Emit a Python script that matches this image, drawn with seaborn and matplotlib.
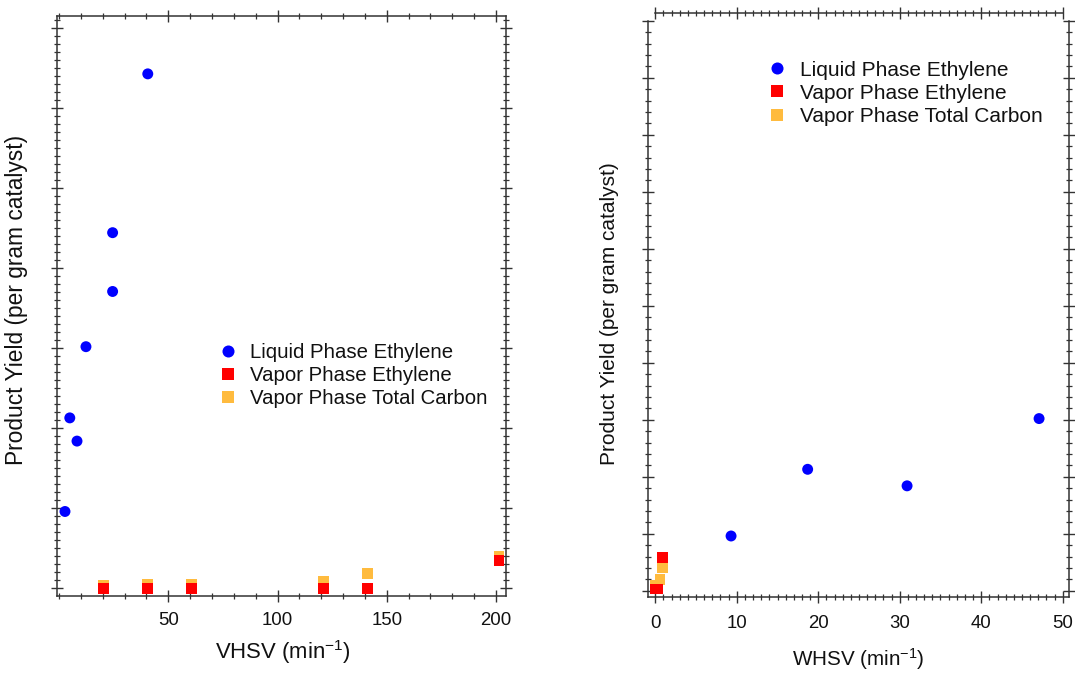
import matplotlib
matplotlib.use("Agg")
import matplotlib.pyplot as plt
from matplotlib.ticker import MultipleLocator, NullFormatter
import numpy as np
import pandas as pd
import seaborn as sns

# ---- data: product yield per gram catalyst (arbitrary units) ----
LIQ = "Liquid Phase Ethylene"
VETH = "Vapor Phase Ethylene"
VTC = "Vapor Phase Total Carbon"

# vs. volumetric hourly space velocity
vhsv_liquid = [2.7, 4.9, 8.2, 12.3, 24.5, 24.5, 40.6]
yield_liquid_vhsv = [0.96, 2.13, 1.84, 3.02, 3.71, 4.445, 6.43]
vhsv_vapor = [20.2, 40.4, 60.5, 120.9, 141.0, 201.4]
yield_vapor_eth_vhsv = [0.0, 0.0, 0.0, 0.0, 0.0, 0.35]
yield_vapor_tc_vhsv = [0.04, 0.05, 0.05, 0.09, 0.18, 0.40]

# vs. weight hourly space velocity
whsv_liquid = [9.3, 18.7, 30.9, 47.1]
yield_liquid_whsv = [0.96, 2.13, 1.84, 3.02]
whsv_vapor_eth = [0.0, 0.25, 0.86]
yield_vapor_eth_whsv = [0.03, 0.03, 0.58]
whsv_vapor_tc = [0.0, 0.58, 0.86]
yield_vapor_tc_whsv = [0.09, 0.20, 0.40]

series_order = [LIQ, VETH, VTC]
palette = {LIQ: "#0000FF", VETH: "#FF0000", VTC: "#FFBB3E"}
markers = {LIQ: "o", VETH: "s", VTC: "s"}


def frame(x_liq, y_liq, x_eth, y_eth, x_tc, y_tc):
    # total carbon first, ethylene over it, liquid on top
    parts = [
        pd.DataFrame({"rate": x_tc, "yield": y_tc, "series": VTC}),
        pd.DataFrame({"rate": x_eth, "yield": y_eth, "series": VETH}),
        pd.DataFrame({"rate": x_liq, "yield": y_liq, "series": LIQ}),
    ]
    return pd.concat(parts, ignore_index=True)


df_v = frame(vhsv_liquid, yield_liquid_vhsv, vhsv_vapor, yield_vapor_eth_vhsv,
             vhsv_vapor, yield_vapor_tc_vhsv)
df_w = frame(whsv_liquid, yield_liquid_whsv, whsv_vapor_eth, yield_vapor_eth_whsv,
             whsv_vapor_tc, yield_vapor_tc_whsv)

sns.set_style("white")
plt.rcParams["font.family"] = ["Liberation Sans", "DejaVu Sans"]
plt.rcParams["mathtext.fontset"] = "custom"
plt.rcParams["mathtext.rm"] = "Liberation Sans"
plt.rcParams["mathtext.it"] = "Liberation Sans"

W, H = 1075, 673
fig = plt.figure(figsize=(W / 100, H / 100), dpi=100)


def px_axes(x0, x1, y0, y1):
    return fig.add_axes([x0 / W, 1 - y1 / H, (x1 - x0) / W, (y1 - y0) / H])


ax1 = px_axes(57.3, 506.0, 15.7, 595.7)
ax2 = px_axes(647.7, 1069.3, 13.3, 596.7)

AX_COLOR = "#333333"
TEXT_COLOR = "#111111"

for ax, df, pad in ((ax1, df_v, 7.2), (ax2, df_w, 8.8)):
    sns.scatterplot(data=df, x="rate", y="yield", hue="series", style="series",
                    hue_order=series_order, style_order=series_order,
                    palette=palette, markers=markers, s=62, linewidth=0,
                    alpha=1, ax=ax, zorder=3)
    for sp in ax.spines.values():
        sp.set_visible(True)
        sp.set_color(AX_COLOR)
        sp.set_linewidth(1.1)
    ax.tick_params(which="both", direction="inout", color=AX_COLOR,
                   top=True, right=True, bottom=True, left=True,
                   labelleft=False, labelsize=13.4, labelcolor=TEXT_COLOR)
    ax.tick_params(which="major", length=8.8, width=1.0, pad=pad)
    ax.tick_params(which="minor", length=4.5, width=0.9)
    ax.yaxis.set_major_formatter(NullFormatter())

    old = ax.get_legend()
    handles = old.legend_handles
    labels = [t.get_text() for t in old.texts]
    old.remove()
    ax._legend_handles = (handles, labels)

# left panel scales
ax1.set_xlim(-0.82, 204.6)
ax1.set_ylim(-0.0925, 7.157)
ax1.xaxis.set_major_locator(MultipleLocator(50))
ax1.xaxis.set_minor_locator(MultipleLocator(10))
ax1.yaxis.set_major_locator(MultipleLocator(1))
ax1.yaxis.set_minor_locator(MultipleLocator(0.1))
ax1.set_xticks([50, 100, 150, 200])
ax1.set_xticklabels(["50", "100", "150", "200"])

# right panel scales
ax2.set_xlim(-0.93, 50.81)
ax2.set_ylim(-0.105, 10.13)
ax2.xaxis.set_major_locator(MultipleLocator(10))
ax2.xaxis.set_minor_locator(MultipleLocator(1))
ax2.yaxis.set_major_locator(MultipleLocator(1))
ax2.yaxis.set_minor_locator(MultipleLocator(0.2))
ax2.spines["top"].set_bounds(0, 50)
ax2.spines["left"].set_bounds(-0.105, 10)
ax2.spines["right"].set_bounds(-0.105, 10)

# axis titles
ax1.set_xlabel("VHSV (min$^{-1}$)", fontsize=15.9, color=TEXT_COLOR)
ax1.xaxis.set_label_coords(0.502, -0.073)
ax1.set_ylabel("Product Yield (per gram catalyst)", fontsize=16.4, color=TEXT_COLOR)
ax1.yaxis.set_label_coords(-0.0642, 0.5098)

ax2.set_xlabel("WHSV (min$^{-1}$)", fontsize=14.9, color=TEXT_COLOR)
ax2.xaxis.set_label_coords(0.4988, -0.0845)
ax2.set_ylabel("Product Yield (per gram catalyst)", fontsize=15.0, color=TEXT_COLOR)
ax2.yaxis.set_label_coords(-0.0669, 0.4858)

# legends
for ax, hx, top, fs in ((ax1, 217.4, 342.8, 14.7), (ax2, 766.3, 60.5, 15.0)):
    handles, labels = ax._legend_handles
    leg = ax.legend(handles, labels, loc="upper left",
                    bbox_to_anchor=(hx / W, 1 - top / H), bbox_transform=fig.transFigure,
                    frameon=False, fontsize=fs, handlelength=1.0, handletextpad=0.6,
                    labelspacing=0.2, borderpad=0, borderaxespad=0, markerscale=1.1)
    for t in leg.get_texts():
        t.set_color(TEXT_COLOR)

fig.savefig("out.png", dpi=100)
